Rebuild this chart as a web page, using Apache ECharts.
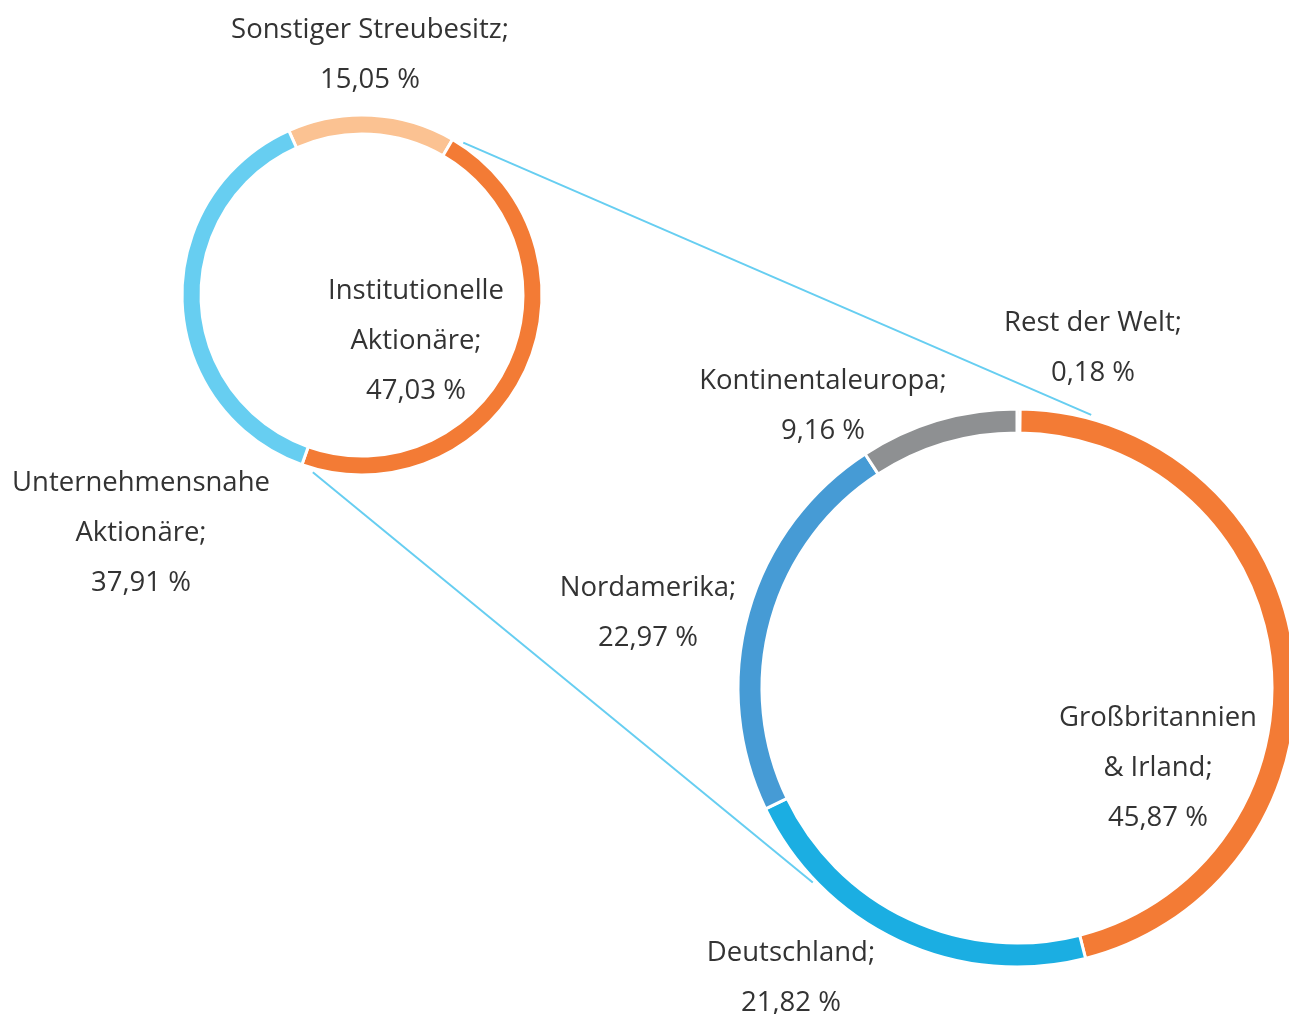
<!DOCTYPE html>
<html>
<head>
<meta charset="utf-8">
<script src="https://cdn.jsdelivr.net/npm/echarts@6/dist/echarts.min.js"></script>
<style>
  html, body { margin: 0; padding: 0; background: #fff; }
  #main { width: 1289px; height: 1014px; }
</style>
</head>
<body>
<div id="main"></div>
<script>
// Aktionärsstruktur (kleiner Ring)
const holderNames = ['Sonstiger Streubesitz;', 'Institutionelle\nAktionäre;', 'Unternehmensnahe\nAktionäre;'];
const holderValues = [15.05, 47.03, 37.91];
const holderColors = ['#FBC292', '#F37B35', '#67CEF1'];

// Institutionelle Aktionäre nach Region (großer Ring)
const regionNames = ['Rest der Welt;', 'Großbritannien\n& Irland;', 'Deutschland;', 'Nordamerika;', 'Kontinentaleuropa;'];
const regionValues = [0.18, 45.87, 21.82, 22.97, 9.16];
const regionColors = ['#F37B35', '#F37B35', '#1BAEE2', '#469BD5', '#8E9092'];

// Layout
const smallC = [362, 295], smallR = [161, 180];
const bigC = [1017, 688], bigR = [255, 279];

// Labelpositionen (Mitte des Textblocks)
const holderLabelPos = [[370, 55], [416, 341], [141, 533]];
const regionLabelPos = [[1093, 348], [1158, 768], [791, 978], [648, 613], [823, 406]];

function fmt(v) {
  return v.toFixed(2).replace('.', ',') + ' %';
}

function polar(c, r, deg) {
  const a = deg * Math.PI / 180;
  return [c[0] + r * Math.cos(a), c[1] - r * Math.sin(a)];
}

const labelStyle = {
  show: true,
  position: 'outside',
  fontFamily: 'Open Sans',
  fontSize: 27.5,
  lineHeight: 50,
  color: '#333',
  align: 'center',
  verticalAlign: 'middle',
  formatter: function (p) { return p.name + '\n' + fmt(p.value); }
};

const chart = echarts.init(document.getElementById('main'));

// Verbindungslinien zwischen den Ringen
const p1 = polar(smallC, 183, 56.4), p2 = polar(bigC, 283, 74.8);
const p3 = polar(smallC, 184, -105.5), p4 = polar(bigC, 282, -136.4);

const option = {
  animation: false,
  graphic: [
    { type: 'line', z: 0, shape: { x1: p1[0], y1: p1[1], x2: p2[0], y2: p2[1] }, style: { stroke: '#67CEF1', lineWidth: 2 } },
    { type: 'line', z: 0, shape: { x1: p3[0], y1: p3[1], x2: p4[0], y2: p4[1] }, style: { stroke: '#67CEF1', lineWidth: 2 } }
  ],
  series: [
    {
      type: 'pie',
      center: smallC,
      radius: smallR,
      startAngle: 114,
      avoidLabelOverlap: false,
      silent: true,
      emphasis: { disabled: true },
      itemStyle: { borderColor: '#fff', borderWidth: 3 },
      label: labelStyle,
      labelLine: { show: false },
      labelLayout: function (p) {
        const pos = holderLabelPos[p.dataIndex];
        return { x: pos[0], y: pos[1], align: 'center', verticalAlign: 'middle' };
      },
      data: holderNames.map((n, i) => ({ name: n, value: holderValues[i], itemStyle: { color: holderColors[i] } }))
    },
    {
      type: 'pie',
      center: bigC,
      radius: bigR,
      startAngle: 90,
      avoidLabelOverlap: false,
      silent: true,
      emphasis: { disabled: true },
      itemStyle: { borderColor: '#fff', borderWidth: 3 },
      label: labelStyle,
      labelLine: { show: false },
      labelLayout: function (p) {
        const pos = regionLabelPos[p.dataIndex];
        return { x: pos[0], y: pos[1], align: 'center', verticalAlign: 'middle' };
      },
      data: regionNames.map((n, i) => ({ name: n, value: regionValues[i], itemStyle: { color: regionColors[i] } }))
    }
  ]
};

chart.setOption(option);
</script>
</body>
</html>
